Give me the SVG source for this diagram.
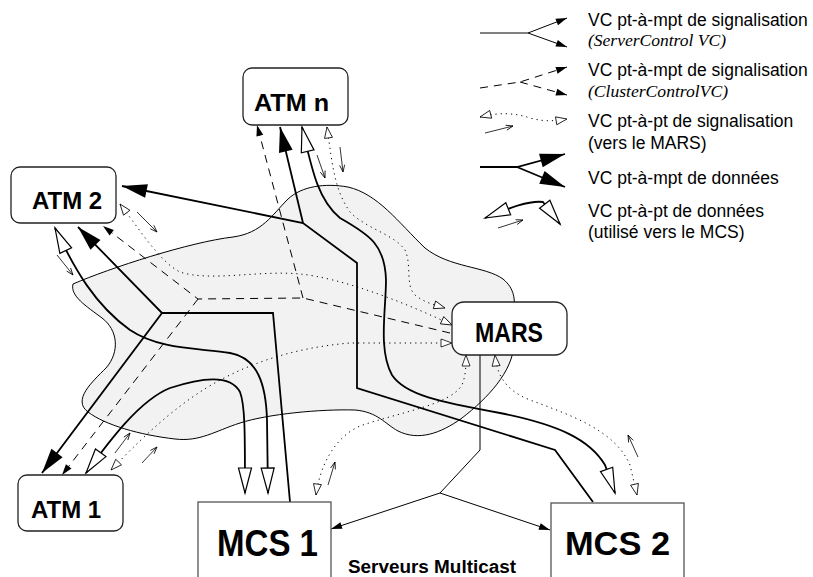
<svg xmlns="http://www.w3.org/2000/svg" width="813" height="577" viewBox="0 0 813 577">
<style>
.bg{fill:#fff}
.cloud{fill:#f2f2f2;stroke:#000;stroke-width:1}
.ln{fill:none;stroke:#000;stroke-width:1}
.thick{fill:none;stroke:#000;stroke-width:1.8}
.dash{fill:none;stroke:#000;stroke-width:1;stroke-dasharray:8,6}
.dot{fill:none;stroke:#000;stroke-width:1;stroke-dasharray:1.2,4}
.stick{fill:none;stroke:#000;stroke-width:0.8}
.box{fill:#fff;stroke:#222;stroke-width:1.3}
.mcs{fill:#fff;stroke:#555;stroke-width:1.3}
.lbl{font-family:"Liberation Sans",Arial,sans-serif;font-weight:bold;fill:#000}
.leg{font-family:"Liberation Sans",Arial,sans-serif;font-size:17.5px;fill:#000}
.legi{font-family:"Liberation Serif","Times New Roman",serif;font-style:italic;font-size:16px;fill:#000}
</style>
<defs>
<marker id="sig" markerUnits="userSpaceOnUse" orient="auto-start-reverse" overflow="visible" markerWidth="12" markerHeight="8" refX="0" refY="0"><path d="M0,0 L-11,-3.5 L-11,3.5 Z" fill="#000" stroke="none"/></marker>
<marker id="hol" markerUnits="userSpaceOnUse" orient="auto-start-reverse" overflow="visible" markerWidth="12" markerHeight="8" refX="0" refY="0"><path d="M0,0 L-11,-4 L-11,4 Z" fill="#fff" stroke="#000" stroke-width="0.8"/></marker>
<marker id="dat" markerUnits="userSpaceOnUse" orient="auto-start-reverse" overflow="visible" markerWidth="26" markerHeight="16" refX="0" refY="0"><path d="M0,0 L-25,-7 L-25,7 Z" fill="#000" stroke="none"/></marker>
<marker id="wht" markerUnits="userSpaceOnUse" orient="auto-start-reverse" overflow="visible" markerWidth="26" markerHeight="16" refX="0" refY="0"><path d="M0,0 L-25,-6.5 L-25,6.5 Z" fill="#fff" stroke="#000" stroke-width="1.2"/></marker>
<marker id="stk" markerUnits="userSpaceOnUse" orient="auto" overflow="visible" markerWidth="8" markerHeight="6" refX="0" refY="0"><path d="M-7,-2.5 L0,0 L-7,2.5" fill="none" stroke="#000" stroke-width="0.8"/></marker>
</defs>
<rect class="bg" x="0" y="0" width="813" height="577"/>
<path id="cloud" class="cloud" d="M73,284 C110,268 190,242 233,237 C262,233 272,215 288,199 C302,186 325,183 348,187 C378,194 398,222 425,248 C450,268 485,266 503,279 C515,289 515,300 514,312 L514,345 C512,372 488,398 462,418 C440,434 418,441 398,431 C385,424 378,412 355,410 C320,409 268,414 240,423 C215,431 200,442 175,439 C140,435 105,425 88,412 C72,400 92,382 106,368 C120,352 118,330 102,318 C86,306 70,296 73,284 Z"/>
<g id="connectors">
<path class="ln" d="M480,355 L480,450 L440,493"/>
<path class="ln" d="M440,493 L331,529" marker-end="url(#sig)"/>
<path class="ln" d="M440,493 L550,530" marker-end="url(#sig)"/>
<path class="dash" d="M450,333 L303,298 L198,299 L103,226" marker-end="url(#sig)"/>
<path class="dash" d="M303,298 L257,125" marker-end="url(#sig)"/>
<path class="dash" d="M198,299 L62,475" marker-end="url(#sig)"/>
<path class="thick" d="M290,502 L273,313 L162,313 L78,227" marker-end="url(#dat)"/>
<path class="thick" d="M162,313 L42,473" marker-end="url(#dat)"/>
<path class="thick" d="M593,502 L555,450 L357,388 L357,263 L303,223 L122,186" marker-end="url(#dat)"/>
<path class="thick" d="M303,223 L280,127" marker-end="url(#dat)"/>
<path class="thick" d="M55,228 C75,270 95,305 130,330 C160,350 200,348 230,353 C258,358 266,385 267,420 L268,493" marker-start="url(#wht)" marker-end="url(#wht)"/>
<path class="thick" d="M86,473 C110,440 140,400 170,388 C200,378 230,373 240,392 C245,405 245,430 245,493" marker-start="url(#wht)" marker-end="url(#wht)"/>
<path class="thick" d="M302,127 C312,170 318,200 340,218 C370,235 385,245 386,280 C386,310 378,350 392,375 C405,395 440,402 500,413 C560,425 590,440 605,465 L615,493" marker-start="url(#wht)" marker-end="url(#wht)"/>
<path class="dot" d="M327,127 C333,170 335,190 350,212 C365,228 395,235 405,250 C412,265 405,285 415,295 C425,303 435,305 445,308" marker-start="url(#hol)" marker-end="url(#hol)"/>
<path class="dot" d="M120,204 C140,230 160,262 180,272 C210,282 260,270 300,274 C340,278 400,300 452,325" marker-start="url(#hol)" marker-end="url(#hol)"/>
<path class="dot" d="M111,470 C135,445 165,415 200,392 C240,366 290,348 350,343 L452,343" marker-start="url(#hol)" marker-end="url(#hol)"/>
<path class="dot" d="M316,495 C320,465 335,437 360,426 C400,412 450,405 462,385 C466,375 466,365 466,355" marker-start="url(#hol)" marker-end="url(#hol)"/>
<path class="dot" d="M495,355 C497,375 505,390 530,400 C570,415 615,430 630,465 L637,495" marker-start="url(#hol)" marker-end="url(#hol)"/>
<path class="stick" d="M317,155 L325,178" marker-end="url(#stk)"/>
<path class="stick" d="M340,147 L343,172" marker-end="url(#stk)"/>
<path class="stick" d="M57,255 L73,275" marker-end="url(#stk)"/>
<path class="stick" d="M137,212 L157,232" marker-end="url(#stk)"/>
<path class="stick" d="M115,453 L130,433" marker-end="url(#stk)"/>
<path class="stick" d="M142,463 L157,447" marker-end="url(#stk)"/>
<path class="stick" d="M328,485 L335,462" marker-end="url(#stk)"/>
<path class="stick" d="M638,457 L628,435" marker-end="url(#stk)"/>
</g>
<g id="atmn"><rect class="box" x="243" y="68" width="105" height="57" rx="9"/><text class="lbl" x="254" y="111" font-size="24" textLength="75" lengthAdjust="spacingAndGlyphs">ATM n</text></g>
<g id="atm2"><rect class="box" x="11" y="167" width="105" height="56" rx="9"/><text class="lbl" x="32" y="209" font-size="24">ATM 2</text></g>
<g id="atm1"><rect class="box" x="18" y="475" width="105" height="56" rx="9"/><text class="lbl" x="31" y="518" font-size="24">ATM 1</text></g>
<g id="mars"><rect class="box" x="452" y="302" width="115" height="53" rx="12"/><text class="lbl" x="475" y="342" font-size="28" textLength="68" lengthAdjust="spacingAndGlyphs">MARS</text></g>
<g id="mcs1"><rect class="mcs" x="198" y="502" width="133" height="100"/><text class="lbl" x="217" y="556" font-size="36" textLength="101" lengthAdjust="spacingAndGlyphs">MCS 1</text></g>
<g id="mcs2"><rect class="mcs" x="551" y="503" width="133" height="100"/><text class="lbl" x="565" y="555" font-size="34" textLength="105" lengthAdjust="spacingAndGlyphs">MCS 2</text></g>
<g id="servers"><text class="lbl" x="348" y="573" font-size="18" textLength="168" lengthAdjust="spacingAndGlyphs">Serveurs Multicast</text></g>
<g id="legend">
<path class="ln" d="M480,33 L528,33 L567,18" marker-end="url(#sig)"/>
<path class="ln" d="M528,33 L567,47" marker-end="url(#sig)"/>
<path class="dash" d="M480,88 L520,82 L567,67" marker-end="url(#sig)"/>
<path class="dash" d="M520,82 L567,95" marker-end="url(#sig)"/>
<path class="dot" d="M480,117 C500,112 515,113 530,118 C545,122 555,121 567,119" marker-start="url(#hol)" marker-end="url(#hol)"/>
<path class="stick" d="M485,133 L513,126" marker-end="url(#stk)"/>
<path class="thick" d="M480,167 L517,167 L565,154" marker-end="url(#dat)"/>
<path class="thick" d="M517,167 L565,187" marker-end="url(#dat)"/>
<path class="thick" d="M485,218 C505,210 528,200 543,202 L560,224" marker-start="url(#wht)" marker-end="url(#wht)"/>
<path class="stick" d="M498,228 L523,220" marker-end="url(#stk)"/>
<text class="leg" x="588" y="26">VC pt-à-mpt de signalisation</text>
<text class="legi" x="588" y="46" textLength="138" lengthAdjust="spacingAndGlyphs">(ServerControl VC)</text>
<text class="leg" x="588" y="76">VC pt-à-mpt de signalisation</text>
<text class="legi" x="588" y="97" textLength="140" lengthAdjust="spacingAndGlyphs">(ClusterControlVC)</text>
<text class="leg" x="588" y="127">VC pt-à-pt de signalisation</text>
<text class="leg" x="588" y="149">(vers le MARS)</text>
<text class="leg" x="588" y="184">VC pt-à-mpt de données</text>
<text class="leg" x="588" y="217">VC pt-à-pt de données</text>
<text class="leg" x="588" y="238">(utilisé vers le MCS)</text>
</g>
</svg>
